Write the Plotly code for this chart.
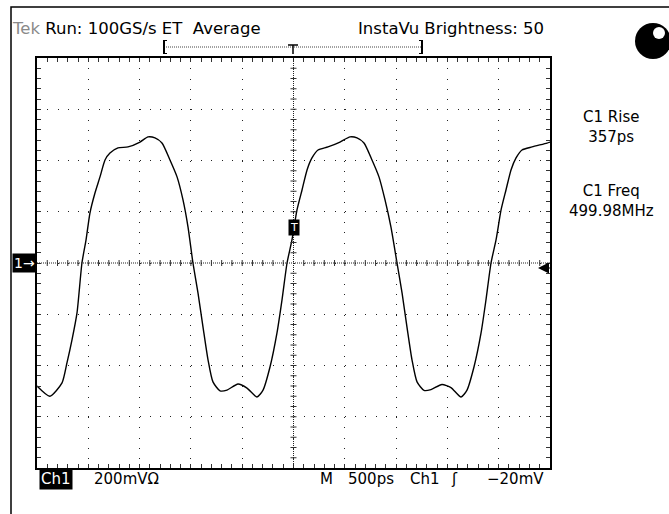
import plotly.graph_objects as go

# ---- data (time in ps, voltage in mV) ----
time_ps = [-2500, -2375, -2256, -2208, -2159, -2110, -2062, -2022, -1984, -1935,
           -1886, -1837, -1789, -1711, -1613, -1496, -1418, -1350, -1282, -1204,
           -1135, -1077, -1028, -980, -931, -882, -833, -785, -716, -648,
           -541, -453, -356, -297, -229, -161, -112, -63, -15, 34,
           83, 132, 180, 239, 336, 453, 551, 619, 687, 765,
           833, 892, 950, 1009, 1058, 1106, 1155, 1204, 1272, 1340,
           1447, 1535, 1633, 1691, 1759, 1828, 1876, 1925, 1974, 2023,
           2071, 2120, 2169, 2227, 2325, 2471, 2500]
volt_mV = [-480, -520, -468, -390, -300, -195, 0, 90, 195, 273,
           336, 402, 429, 449, 453, 472, 492, 488, 468, 402,
           336, 246, 140, 0, -117, -250, -378, -464, -499, -496,
           -472, -488, -523, -496, -406, -273, -144, 0, 90, 207,
           285, 363, 410, 441, 453, 472, 492, 488, 468, 402,
           336, 246, 140, 0, -117, -250, -378, -464, -497, -494,
           -474, -486, -523, -496, -406, -273, -144, 0, 90, 207,
           285, 363, 410, 441, 453, 468, 472]

x_range = [-2500, 2500]   # 10 div x 500 ps
y_range = [-800, 800]     # 8 div x 200 mV
x_major = 500
y_major = 200
x_minor = 100
y_minor = 40
x_minor_ticks = [t for t in range(-2400, 2500, 100) if t != 0]
y_minor_ticks = [v for v in range(-760, 800, 40) if v != 0]
trigger_level_mV = -20
trig_marker_mV = 137

header_left = "<span style='color:#8a8a8a'>Tek</span> Run: 100GS/s ET  Average"
header_right = "InstaVu Brightness: 50"
meas = [("C1 Rise", "357ps"), ("C1 Freq", "499.98MHz")]

FONT = "DejaVu Sans"
W, H = 669, 514
L, R, T, B = 37, 119, 58, 46
PW, PH = W - L - R, H - T - B


def px(x):
    return (x - L) / PW


def py(y):
    return (H - B - y) / PH


fig = go.Figure()
fig.add_trace(go.Scatter(x=time_ps, y=volt_mV, mode="lines",
                         line=dict(color="black", width=1.4, shape="spline", smoothing=0.6),
                         hoverinfo="skip", showlegend=False))

axis_common = dict(showticklabels=False, showline=True, linecolor="black", linewidth=1.5,
                   mirror="ticks", ticks="inside", ticklen=4, tickcolor="#333", tickwidth=1,
                   showgrid=True, gridcolor="#222", gridwidth=1, griddash="1px,9.26px",
                   zeroline=False, fixedrange=True)
fig.update_xaxes(range=x_range, dtick=x_major, tick0=0,
                 minor=dict(dtick=x_minor, ticks="inside", ticklen=4, tickcolor="#333", showgrid=False),
                 **axis_common)
fig.update_yaxes(range=y_range, dtick=y_major, tick0=0,
                 minor=dict(dtick=y_minor, ticks="inside", ticklen=4, tickcolor="#333", showgrid=False),
                 **axis_common)

shapes = []
# outer frame (left and top edges of the screen)
shapes.append(dict(type="rect", xref="paper", yref="paper", x0=px(11), x1=px(700), y0=py(540), y1=py(7),
                   line=dict(color="black", width=1.5), fillcolor="rgba(0,0,0,0)", layer="below"))
# centre lines (fine dotted)
shapes.append(dict(type="line", xref="x", yref="y", x0=0, x1=0, y0=y_range[0], y1=y_range[1],
                   line=dict(color="#222", width=1, dash="1px,1px")))
shapes.append(dict(type="line", xref="x", yref="y", x0=x_range[0], x1=x_range[1], y0=0, y1=0,
                   line=dict(color="#222", width=1, dash="1px,1px")))
# cross ticks on the centre lines
for t in x_minor_ticks:
    shapes.append(dict(type="line", xref="x", yref="paper", x0=t, x1=t,
                       y0=0.5 - 3 / PH, y1=0.5 + 3 / PH, line=dict(color="#333", width=1)))
for v in y_minor_ticks:
    shapes.append(dict(type="line", xref="paper", yref="y", x0=0.5 - 3 / PW, x1=0.5 + 3 / PW,
                       y0=v, y1=v, line=dict(color="#333", width=1)))
# record bracket dotted line
shapes.append(dict(type="line", xref="paper", yref="paper", x0=px(166), x1=px(421), y0=py(47), y1=py(47),
                   line=dict(color="#444", width=1, dash="1px,1px")))
# bracket ends
for xb, d in [(164, 3), (422, -3)]:
    shapes.append(dict(type="line", xref="paper", yref="paper", x0=px(xb), x1=px(xb), y0=py(40), y1=py(54),
                       line=dict(color="black", width=2)))
    shapes.append(dict(type="line", xref="paper", yref="paper", x0=px(xb), x1=px(xb + d), y0=py(40.5), y1=py(40.5),
                       line=dict(color="black", width=1)))
    shapes.append(dict(type="line", xref="paper", yref="paper", x0=px(xb), x1=px(xb + d), y0=py(53.5), y1=py(53.5),
                       line=dict(color="black", width=1)))
# trigger 'T' in bracket
shapes.append(dict(type="line", xref="paper", yref="paper", x0=px(288), x1=px(298), y0=py(45), y1=py(45),
                   line=dict(color="black", width=1.5)))
shapes.append(dict(type="line", xref="paper", yref="paper", x0=px(293), x1=px(293), y0=py(45), y1=py(54),
                   line=dict(color="black", width=1.5)))
# eyeball icon
shapes.append(dict(type="circle", xref="paper", yref="paper", xsizemode="pixel", ysizemode="pixel",
                   xanchor=px(653), yanchor=py(41), x0=-18, x1=18, y0=-18, y1=18,
                   fillcolor="black", line=dict(color="black", width=0)))
shapes.append(dict(type="circle", xref="paper", yref="paper", xsizemode="pixel", ysizemode="pixel",
                   xanchor=px(659), yanchor=py(33), x0=-6, x1=6, y0=-6, y1=6,
                   fillcolor="white", line=dict(color="white", width=0)))

ann = []


def text(x, y, s, anchor="left", size=15, color="black", bg=None, yref="paper"):
    d = dict(xref="paper", yref=yref, x=x, y=y, text=s, showarrow=False, xanchor=anchor, yanchor="middle",
             font=dict(family=FONT, size=size, color=color), borderpad=1)
    if bg:
        d["bgcolor"] = bg
    ann.append(d)


text(px(10), py(29), header_left, "left", 16.5)
text(px(546), py(29), header_right, "right", 16.5)
for i, (a, b) in enumerate(meas):
    yc = 127 + i * 74
    text(px(611), py(yc), a + "<br>" + b, "center", 15)
# bottom status line
text(px(39), py(479), "Ch1", "left", 15, "white", "black")
text(px(92), py(479), "200mVΩ", "left", 15)
text(px(318), py(479), "M", "left", 15)
text(px(346), py(479), "500ps", "left", 15)
text(px(408), py(479), "Ch1", "left", 15)
text(px(449), py(479), "ʃ", "left", 15)
text(px(546), py(479), "−20mV", "right", 15)
# channel ground marker
text(px(12), 0, "1→", "left", 14, "white", "black", yref="y")
# trigger-point marker on the trace
ann.append(dict(xref="x", yref="y", x=0, y=trig_marker_mV, text="T", showarrow=False,
                font=dict(family=FONT, size=11, color="white"), bgcolor="black", borderpad=1))
# trigger level arrow
ann.append(dict(xref="paper", yref="y", x=px(538), y=trigger_level_mV, text="", showarrow=True,
                ax=13, ay=0, arrowhead=2, arrowsize=1.1, arrowwidth=2, arrowcolor="black"))

fig.update_layout(width=W, height=H, margin=dict(l=L, r=R, t=T, b=B),
                  paper_bgcolor="white", plot_bgcolor="white",
                  shapes=shapes, annotations=ann, showlegend=False)

fig.write_html("out.html", config={"displayModeBar": False},
               post_script="document.body.style.margin='0';document.body.style.overflow='hidden';")
